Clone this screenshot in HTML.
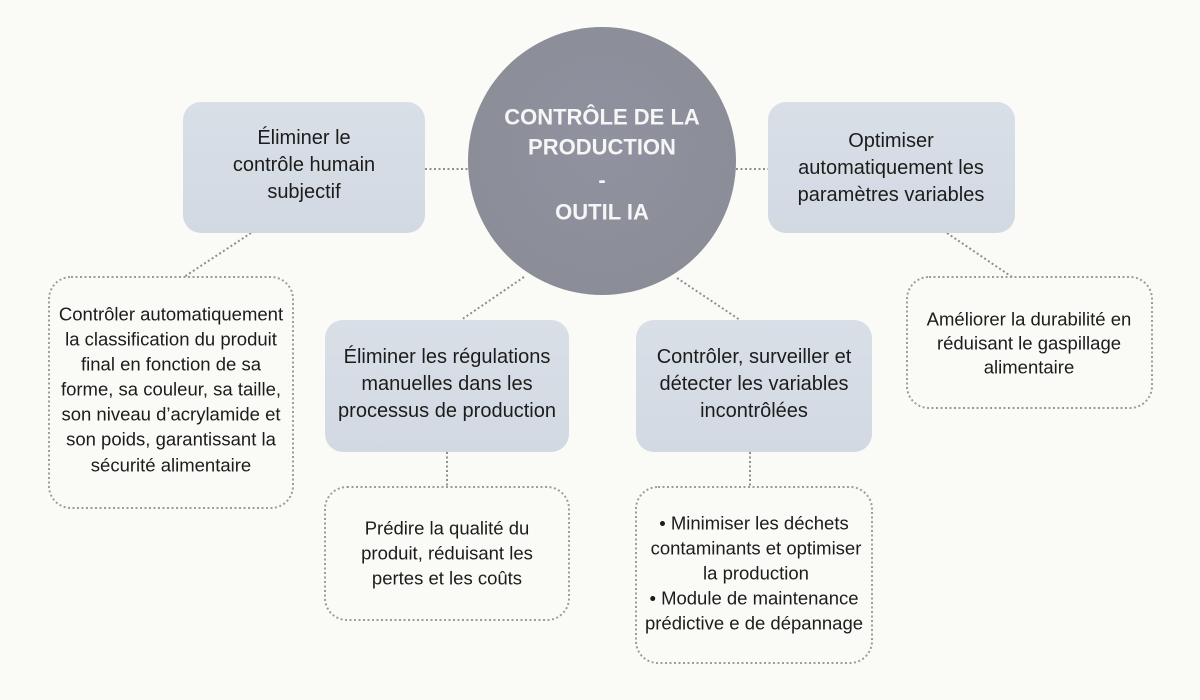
<!DOCTYPE html>
<html>
<head>
<meta charset="utf-8">
<style>
  html, body { margin:0; padding:0; background:#fafaf7; }
  body { width:1200px; height:700px; overflow:hidden; }
  svg { display:block; }
  .bx { font-family:"Liberation Sans", Arial, sans-serif; font-size:20px; fill:#1c1c1c; }
  .dt { font-family:"Liberation Sans", Arial, sans-serif; font-size:18.5px; fill:#1c1c1c; }
  .ct { font-family:"Liberation Sans", Arial, sans-serif; font-size:22px; font-weight:bold; fill:#f6f6f6; }
</style>
</head>
<body>
<svg width="1200" height="700" viewBox="0 0 1200 700" xmlns="http://www.w3.org/2000/svg">
  <defs>
    <linearGradient id="bg" x1="0" y1="0" x2="0" y2="1">
      <stop offset="0" stop-color="#d9dfe7"/>
      <stop offset="1" stop-color="#d2d9e2"/>
    </linearGradient>
    <radialGradient id="cg" cx="0.5" cy="0.45" r="0.6">
      <stop offset="0" stop-color="#9092a0"/>
      <stop offset="1" stop-color="#8a8c96"/>
    </radialGradient>
  </defs>
  <rect width="1200" height="700" fill="#fafaf7"/>

  <!-- connectors -->
  <g stroke="#8e8e8e" stroke-width="2" stroke-dasharray="2 2.5" fill="none">
    <line x1="425" y1="169" x2="468" y2="169"/>
    <line x1="736" y1="169" x2="768" y2="169"/>
    <line x1="251" y1="233" x2="184" y2="277"/>
    <line x1="947" y1="233" x2="1012" y2="277"/>
    <line x1="524" y1="277" x2="461" y2="320"/>
    <line x1="677" y1="278" x2="740" y2="320"/>
    <line x1="447" y1="452" x2="447" y2="487"/>
    <line x1="750" y1="452" x2="750" y2="487"/>
  </g>

  <!-- central circle -->
  <circle cx="602" cy="161" r="134" fill="url(#cg)"/>
  <g class="ct" text-anchor="middle" dominant-baseline="central">
    <text x="602" y="117">CONTRÔLE DE LA</text>
    <text x="602" y="147">PRODUCTION</text>
    <text x="602" y="180">-</text>
    <text x="602" y="212">OUTIL IA</text>
  </g>

  <!-- main boxes -->
  <g fill="url(#bg)">
    <rect x="183" y="102" width="242" height="131" rx="18"/>
    <rect x="768" y="102" width="247" height="131" rx="18"/>
    <rect x="325" y="320" width="244" height="132" rx="18"/>
    <rect x="636" y="320" width="236" height="132" rx="18"/>
  </g>

  <!-- detail boxes -->
  <g fill="none" stroke="#9c9c9c" stroke-width="2" stroke-dasharray="2 2.5">
    <rect x="49" y="277" width="244" height="231" rx="22"/>
    <rect x="907" y="277" width="245" height="131" rx="22"/>
    <rect x="325" y="487" width="244" height="133" rx="22"/>
    <rect x="636" y="487" width="236" height="176" rx="22"/>
  </g>

  <!-- box texts -->
  <g class="bx" text-anchor="middle" dominant-baseline="central">
    <text x="304" y="138">Éliminer le</text>
    <text x="304" y="165">contrôle humain</text>
    <text x="304" y="192">subjectif</text>

    <text x="891" y="141">Optimiser</text>
    <text x="891" y="168">automatiquement les</text>
    <text x="891" y="195">paramètres variables</text>

    <text x="447" y="357">Éliminer les régulations</text>
    <text x="447" y="384">manuelles dans les</text>
    <text x="447" y="411">processus de production</text>

    <text x="754" y="357">Contrôler, surveiller et</text>
    <text x="754" y="384">détecter les variables</text>
    <text x="754" y="411">incontrôlées</text>
  </g>

  <!-- detail texts -->
  <g class="dt" text-anchor="middle" dominant-baseline="central">
    <text x="171" y="314">Contrôler automatiquement</text>
    <text x="171" y="339">la classification du produit</text>
    <text x="171" y="364">final en fonction de sa</text>
    <text x="171" y="389">forme, sa couleur, sa taille,</text>
    <text x="171" y="414">son niveau d’acrylamide et</text>
    <text x="171" y="439">son poids, garantissant la</text>
    <text x="171" y="465">sécurité alimentaire</text>

    <text x="1029" y="319">Améliorer la durabilité en</text>
    <text x="1029" y="343">réduisant le gaspillage</text>
    <text x="1029" y="367">alimentaire</text>

    <text x="447" y="528">Prédire la qualité du</text>
    <text x="447" y="553">produit, réduisant les</text>
    <text x="447" y="578">pertes et les coûts</text>

    <text x="754" y="523">• Minimiser les déchets</text>
    <text x="756" y="548">contaminants et optimiser</text>
    <text x="756" y="573">la production</text>
    <text x="754" y="598">• Module de maintenance</text>
    <text x="754" y="623">prédictive e de dépannage</text>
  </g>
</svg>
</body>
</html>
